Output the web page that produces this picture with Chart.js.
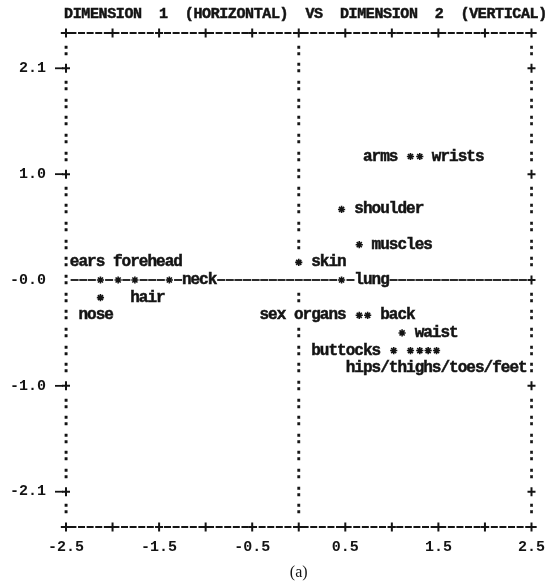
<!DOCTYPE html>
<html><head><meta charset="utf-8">
<script src="https://cdn.jsdelivr.net/npm/chart.js@4.4.1/dist/chart.umd.min.js"></script>
<style>html,body{margin:0;padding:0;background:#fff}</style>
</head><body>
<canvas id="c" width="556" height="588"></canvas>
<script>
// ---------- data ----------
const titleText = 'DIMENSION  1  (HORIZONTAL)  VS  DIMENSION  2  (VERTICAL)';
const caption = '(a)';
const xTickValues = [-2.5, -1.5, -0.5, 0.5, 1.5, 2.5];
const xTickLabels = ['-2.5', '-1.5', '-0.5', '0.5', '1.5', '2.5'];
const borderTickValues = [-2.5, -2.0, -1.5, -1.0, -0.5, 0, 0.5, 1.0, 1.5, 2.0, 2.5];
const yTickValues = [2.1, 1.05, 0, -1.05, -2.1];
const yTickLabels = ['2.1', '1.0', '-0.0', '-1.0', '-2.1'];
// plotted stimuli (asterisks)
const starX = [-2.13, -1.94, -1.76, -1.39, -2.13, 0.00, 0.46, 1.20, 1.30, 0.46, 0.65, 0.65, 0.74, 1.11, 1.02, 1.20, 1.30, 1.39, 1.48];
const starY = [0, 0, 0, 0, -0.175, 0.175, 0, 1.225, 1.225, 0.70, 0.35, -0.35, -0.35, -0.525, -0.70, -0.70, -0.70, -0.70, -0.70];
// printed labels (position of first character)
const labelText = ['ears forehead', 'neck', 'hair', 'nose', 'skin', 'lung', 'arms', 'wrists', 'shoulder', 'muscles', 'sex organs', 'back', 'waist', 'buttocks', 'hips/thighs/toes/feet'];
const labelX = [-2.41, -1.20, -1.76, -2.31, 0.19, 0.65, 0.74, 1.48, 0.65, 0.83, -0.37, 0.93, 1.30, 0.19, 0.56];
const labelY = [0.175, 0, -0.175, -0.35, 0.175, 0, 1.225, 1.225, 0.70, 0.35, -0.35, -0.35, -0.525, -0.70, -0.875];

// ---------- printer grid constants ----------
const X_MIN = -2.5, X_MAX = 2.5, Y_MAX = 2.45, Y_MIN = -2.45;
const COLS = 54, ROWS = 28;
const CHAR_DX = (X_MAX - X_MIN) / COLS;
const ROW_DY = (Y_MAX - Y_MIN) / ROWS;
const INK = '#141414';
const MONO = '"Liberation Mono", "DejaVu Sans Mono", monospace';
const FONT = 'bold 16px ' + MONO;

const cellCol = v => Math.round((v - X_MIN) / CHAR_DX);
const cellRow = v => Math.round((Y_MAX - v) / ROW_DY);

const printer = {
  id: 'printer',
  afterDatasetsDraw(chart) {
    const {ctx, scales: {x, y}} = chart;
    const px = c => x.getPixelForValue(X_MIN + c * CHAR_DX);
    const py = r => y.getPixelForValue(Y_MAX - r * ROW_DY);
    const occ = new Set();
    labelText.forEach((t, i) => {
      const c0 = cellCol(labelX[i]), r = cellRow(labelY[i]);
      for (let k = 0; k < t.length; k++) occ.add(r + ',' + (c0 + k));
    });
    starX.forEach((sx, i) => occ.add(cellRow(starY[i]) + ',' + cellCol(sx)));
    const tickRows = yTickValues.map(cellRow);

    ctx.save();
    ctx.fillStyle = INK; ctx.strokeStyle = INK;
    ctx.textAlign = 'center'; ctx.textBaseline = 'middle';
    ctx.font = FONT;
    const ch = (s, cx, cy) => { ctx.lineWidth = 0.5; ctx.fillText(s, cx, cy); ctx.strokeText(s, cx, cy); };
    const plus = (cx, cy) => {
      ctx.lineWidth = 2; ctx.setLineDash([]);
      ctx.beginPath();
      ctx.moveTo(cx - 4, cy); ctx.lineTo(cx + 4, cy);
      ctx.moveTo(cx, cy - 4.5); ctx.lineTo(cx, cy + 4.5);
      ctx.stroke();
    };
    const dash = (cx, cy, half) => {
      ctx.lineWidth = 1.8; ctx.setLineDash([]);
      ctx.beginPath(); ctx.moveTo(cx - half, cy); ctx.lineTo(cx + half, cy); ctx.stroke();
    };

    // top and bottom borders
    [0, ROWS].forEach(r => {
      ctx.lineWidth = 1.8; ctx.setLineDash([7, 1.6]);
      ctx.beginPath(); ctx.moveTo(px(-0.6), py(r)); ctx.lineTo(px(COLS + 0.6), py(r)); ctx.stroke();
      ctx.setLineDash([]);
      borderTickValues.forEach(v => plus(x.getPixelForValue(v), py(r)));
    });

    for (let r = 1; r < ROWS; r++) {
      // left border
      if (tickRows.includes(r) && r !== cellRow(0)) {
        plus(px(0), py(r));
        dash(px(0) - 7, py(r), 4);
      } else {
        ch(':', px(0), py(r));
      }
      // right border
      if (tickRows.includes(r)) plus(px(COLS), py(r));
      else ch(':', px(COLS), py(r));
      // centre column
      const cc = cellCol(0);
      if (r !== cellRow(0) && !occ.has(r + ',' + cc)) ch(':', px(cc), py(r));
    }
    // horizontal zero line
    const r0 = cellRow(0);
    for (let c = 1; c < COLS; c++) {
      if (!occ.has(r0 + ',' + c)) dash(px(c), py(r0), 4);
    }
    // labels
    labelText.forEach((t, i) => {
      const c0 = cellCol(labelX[i]), r = cellRow(labelY[i]);
      for (let k = 0; k < t.length; k++) if (t[k] !== ' ') ch(t[k], px(c0 + k), py(r));
    });
    // title
    ctx.font = 'bold 15px ' + MONO;
    for (let k = 0; k < titleText.length; k++) if (titleText[k] !== ' ') ch(titleText[k], px(k + 0.3), py(-1.05));
    ctx.restore();
  }
};

new Chart(document.getElementById('c'), {
  type: 'scatter',
  data: {
    datasets: [{
      data: starX.map((v, i) => ({x: v, y: starY[i]})),
      pointStyle: 'star', radius: 3.6, borderWidth: 1.6,
      borderColor: INK, backgroundColor: INK, clip: false
    }]
  },
  options: {
    responsive: false, animation: false, events: [],
    layout: {padding: {top: 33, right: 23, left: 0, bottom: 0}},
    plugins: {legend: {display: false}, tooltip: {enabled: false}, title: {display: false}},
    scales: {
      x: {
        type: 'linear', min: X_MIN, max: X_MAX, bounds: 'data',
        grid: {display: false, drawTicks: false}, border: {display: false},
        afterBuildTicks: s => { s.ticks = xTickValues.map(v => ({value: v})); },
        ticks: {autoSkip: false, maxRotation: 0, padding: 11, color: INK,
          font: {family: MONO, size: 15, weight: 'bold'},
          callback: (v, i) => xTickLabels[i]},
        title: {display: true, text: caption, color: INK,
          font: {family: '"Liberation Serif", serif', size: 16}, padding: {top: 0, bottom: 6}},
        afterFit: s => { s.height = 61; }
      },
      y: {
        type: 'linear', min: Y_MIN, max: Y_MAX, bounds: 'data',
        grid: {display: false, drawTicks: false}, border: {display: false},
        afterBuildTicks: s => { s.ticks = yTickValues.map(v => ({value: v})); },
        ticks: {autoSkip: false, padding: 20, color: INK,
          font: {family: MONO, size: 15, weight: 'bold'},
          callback: (v, i) => yTickLabels[i]},
        afterFit: s => { s.width = 66; }
      }
    }
  },
  plugins: [printer]
});
</script>
</body></html>
